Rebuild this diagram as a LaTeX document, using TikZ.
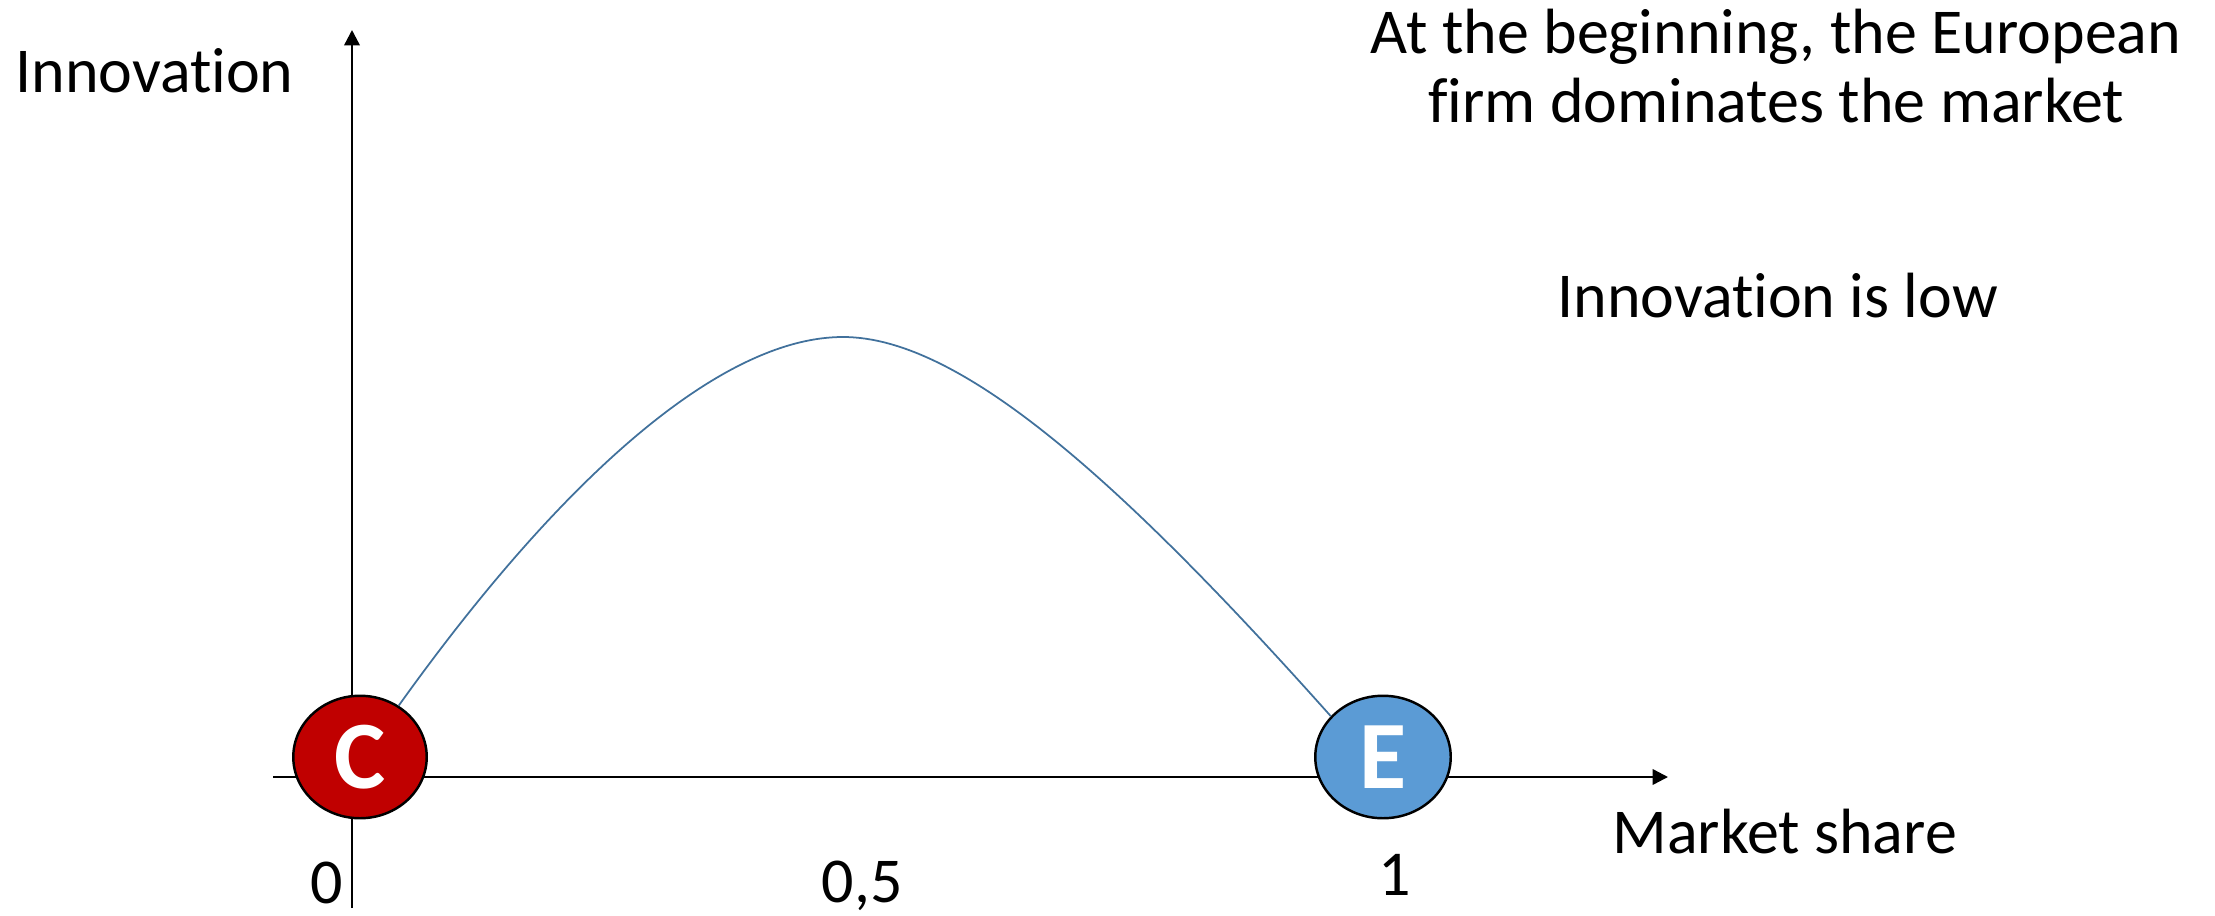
\documentclass[tikz,border=0pt]{standalone}
\usepackage{fontspec}
\setmainfont{Carlito}[Ligatures=NoCommon]
\usepackage{xcolor}
\usetikzlibrary{positioning, shapes, arrows.meta, calc}
\definecolor{firmred}{RGB}{192,0,0}
\definecolor{firmblue}{RGB}{91,155,213}
\definecolor{curveblue}{RGB}{65,113,156}
\newcommand{\lblsize}{\fontsize{36.4}{43.6}\selectfont}
\newcommand{\firmsize}{\fontsize{55}{66}\selectfont}

\begin{document}
\begin{tikzpicture}[x=0.02cm, y=-0.02cm,
  label/.style={inner sep=0, font=\lblsize},
  firm/.style={draw, ellipse, line width=1.4pt, inner sep=0,
               minimum width=2.67cm, minimum height=2.45cm,
               text=white, font=\firmsize\bfseries},
  axis/.style={-{Triangle[length=0.31cm, width=0.31cm]}, line width=1.4pt}
]
  \useasboundingbox (0,0) rectangle (2215,916);
  \coordinate (ybot) at (352,908);
  \coordinate (ytop) at (352,30);
  \coordinate (xleft) at (273,777);
  \coordinate (xright) at (1668,777);
  \draw[axis] (ybot) -- (ytop);
  \draw[axis] (xleft) -- (xright);
  \node[firm, fill=firmred] (C) at (360,757) {C};
  \node[firm, fill=firmblue, minimum width=2.71cm] (E) at (1383,757) {E};
  \draw[curveblue, line width=1pt] (C.53) .. controls (560,480) and (720,337) .. (843,337)
    .. controls (960,337) and (1120,480) .. (E.142);
  \node[label, anchor=base west] (yname) at (15,92) {Innovation};
  \node[label, anchor=base west] (xname) at (1612,853) {Market share};
  \node[label, anchor=base] (t0) at (327,903) {0};
  \node[label, anchor=base] (thalf) at (862,902) {0,5};
  \node[label, anchor=base] (t1) at (1395,895) {1};
  \node[label, anchor=base] (head1) at (1776,53) {At the beginning, the European};
  \node[label, anchor=base] (head2) at (1776,122) {firm dominates the market};
  \node[label, anchor=base west] (low) at (1557,317) {Innovation is low};
\end{tikzpicture}
\end{document}
